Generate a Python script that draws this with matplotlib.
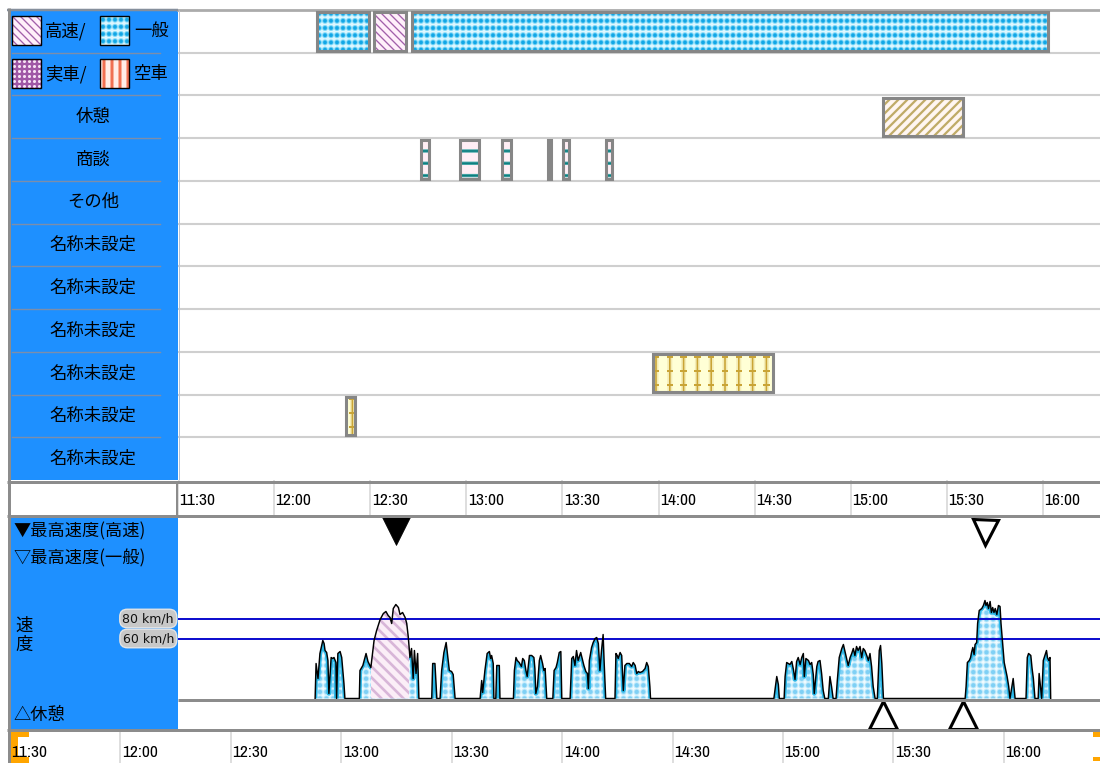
import numpy as np
import matplotlib
matplotlib.use("Agg")
import matplotlib.pyplot as plt
from matplotlib.path import Path
from matplotlib.patches import Rectangle
from matplotlib import colors as mcolors, font_manager as fm, transforms as mtrans

# ---------------- data ----------------
row_labels = ["", "", "休憩", "商談", "その他", "名称未設定", "名称未設定",
              "名称未設定", "名称未設定", "名称未設定", "名称未設定"]
legend_top = ["高速/", "一般"]
legend_bottom = ["実車/", "空車"]

drive_start = ["12:13:30", "12:31:18", "12:42:54"]
drive_end = ["12:29:30", "12:41:18", "16:01:42"]
drive_kind = ["一般", "高速", "一般"]

rest_start = ["15:10:06"]
rest_end = ["15:35:00"]

meeting_start = ["12:46:00", "12:57:54", "13:11:00", "13:25:36", "13:30:18", "13:43:42"]
meeting_end = ["12:48:30", "13:04:06", "13:13:48", "13:26:18", "13:31:54", "13:45:36"]

misc_row = [8, 9]
misc_start = ["13:58:24", "12:22:18"]
misc_end = ["14:35:36", "12:25:06"]

time_ticks = ["11:30", "12:00", "12:30", "13:00", "13:30", "14:00",
              "14:30", "15:00", "15:30", "16:00"]
speed_refs = [80, 60]

# minutes since midnight / km/h
speed_time = [
    732.8, 733.1, 733.7, 734.3, 735.2, 735.6, 735.9, 736.4, 736.8, 737.1, 737.8, 738.3, 738.7, 739.3, 739.5, 739.9, 740.6, 741.1, 741.8, 742.1,
    746.6, 746.8, 747.7, 748.7, 749.3, 750.2, 751.2, 752.0, 753.1, 754.1, 754.9, 755.6, 756.2, 756.7, 757.2, 758.0, 758.8, 759.3, 760.1, 760.9, 761.4, 761.9, 762.4, 762.9, 763.4, 763.8, 764.3, 764.8, 765.2,
    769.2, 769.5, 770.2, 770.8,
    771.8, 772.3, 773.0, 773.7, 774.1, 774.7, 775.4, 775.9, 776.5,
    784.3, 784.8, 785.1, 785.8, 786.5, 787.2, 787.6, 787.9, 788.4, 788.6, 789.2, 789.5, 790.3, 790.5,
    794.7, 795.0, 795.5, 795.9, 796.5, 797.2, 797.6, 798.1, 798.6, 799.0, 799.7, 800.4, 801.1, 801.4, 801.7, 802.2, 802.8, 803.2, 803.8, 804.2, 804.6, 805.1,
    807.0, 807.4, 808.0, 808.4, 809.0, 809.5, 809.8,
    812.4, 812.9, 813.4, 813.9, 814.4, 814.9, 815.7, 816.3, 816.7, 817.3, 817.8, 818.1, 818.4, 819.1, 819.6, 820.2, 820.7, 821.2, 821.7, 822.2, 822.7, 823.0, 823.5,
    826.4, 826.7, 827.1, 827.4, 828.0, 828.5, 829.0, 829.5, 830.1, 830.9, 831.6, 832.1, 832.7, 833.2, 833.7, 834.2, 835.0, 835.8, 836.3, 836.8, 837.3, 837.5,
    876.0, 876.4, 876.9, 877.4, 877.7,
    879.2, 879.5, 880.0, 880.5, 881.0, 881.6, 882.1, 882.6, 883.1, 883.6, 884.2, 884.7, 885.2, 885.5, 886.0, 886.8, 887.3, 887.8, 888.3, 888.6, 889.4, 889.8, 890.4, 890.9, 891.4, 891.9,
    893.0, 893.5, 894.0, 894.5,
    895.4, 895.8, 896.4, 897.2, 897.7, 898.2, 898.7, 899.2, 899.8, 900.3, 900.8, 901.3, 901.8, 902.3, 902.9, 903.4, 903.9, 904.4, 905.0, 905.5, 906.0, 906.5, 907.0, 907.6,
    908.3, 908.9, 909.3, 909.7, 910.2,
    935.7, 936.0, 936.4, 937.0, 937.4, 937.7, 938.1, 938.5, 938.8, 939.3, 939.6, 940.1, 940.9, 941.4, 941.9, 942.2, 942.6, 943.0, 943.5, 943.9, 944.3, 944.7, 945.1, 945.6, 946.1, 946.6, 946.9, 947.4, 947.9, 948.4, 948.8, 949.3, 949.7, 950.2, 950.7, 951.3,
    954.7, 955.1, 955.5, 956.2, 956.6, 957.0, 957.5,
    958.5, 958.8, 959.2, 959.6, 960.1, 960.6, 961.1, 961.4, 961.8, 962.2, 962.4]
speed_kmh = [
    0, 35, 20, 45, 58, 55, 48, 46, 38, 5, 41, 40, 41, 36, 0, 45, 47, 41, 15, 0,
    0, 28, 33, 45, 37, 31, 58, 68, 79, 85, 87, 83, 81, 75, 90, 94, 91, 84, 86, 81, 75, 61, 41, 50, 20, 48, 25, 45, 0,
    0, 35, 35, 0,
    0, 28, 46, 56, 45, 28, 27, 24, 0,
    0, 18, 6, 28, 45, 47, 40, 43, 35, 0, 0, 33, 33, 0,
    0, 28, 41, 38, 36, 32, 40, 38, 28, 22, 43, 43, 41, 30, 5, 12, 38, 43, 35, 28, 30, 0,
    0, 28, 31, 36, 46, 47, 0,
    0, 40, 42, 33, 48, 38, 46, 38, 33, 27, 25, 10, 38, 51, 56, 60, 61, 55, 28, 48, 64, 38, 0,
    0, 45, 43, 40, 46, 43, 8, 33, 35, 35, 32, 36, 33, 25, 27, 26, 27, 30, 36, 32, 12, 0,
    0, 10, 22, 14, 0,
    0, 22, 36, 35, 34, 37, 29, 19, 37, 41, 34, 41, 45, 22, 40, 38, 34, 36, 24, 5, 32, 37, 38, 25, 8, 0,
    0, 22, 12, 0,
    0, 18, 41, 50, 54, 47, 40, 33, 41, 45, 50, 43, 52, 48, 52, 41, 50, 48, 43, 38, 45, 32, 12, 0,
    0, 48, 53, 35, 0,
    0, 12, 36, 38, 41, 46, 51, 44, 54, 56, 75, 88, 90, 93, 98, 93, 96, 90, 97, 86, 91, 86, 90, 84, 93, 92, 75, 55, 36, 28, 22, 12, 0, 10, 20, 0,
    0, 41, 45, 43, 30, 20, 0,
    0, 25, 12, 0, 38, 43, 48, 41, 38, 41, 0]


def hm(s):
    p = [float(x) for x in s.split(":")]
    return p[0] * 60 + p[1] + (p[2] / 60 if len(p) > 2 else 0)


# ---------------- fonts ----------------
JP = ["Noto Sans CJK JP", "DejaVu Sans"]


def narrow_font():
    best = None
    for f in fm.fontManager.ttflist:
        n = f.name.lower()
        s = str(f.stretch).lower()
        if f.style != "normal" or str(f.weight) not in ("400", "normal", "regular", "book"):
            continue
        if "narrow" in n:
            score, size = 0, 12.5
        elif ("condensed" in n or "condensed" in s) and "semi" not in s and "semi" not in n:
            score, size = (2, 10.8) if "dejavu" in n else (1, 12.0)
        elif "semi" in s and "condensed" in s:
            score, size = 3, 11.0
        else:
            continue
        if best is None or score < best[0]:
            best = (score, size, f.fname)
    if best is None:
        return fm.FontProperties(family="DejaVu Sans", size=10.5)
    return fm.FontProperties(fname=best[2], size=best[1])


TFP = narrow_font()

# ---------------- patterns ----------------
def blend(img, color, a):
    c = np.array(mcolors.to_rgb(color))
    return img * (1 - a[..., None]) + c * a[..., None]


def make_pattern(kind, w, h):
    yy, xx = np.mgrid[0:h, 0:w].astype(float) + 0.5
    img = np.empty((h, w, 3))
    if kind in ("ippan", "ippan_s"):
        if kind == "ippan":
            sx, sy, cb, ch, cc, rc = 6.0, 7.2, "#DDF7FF", "#62CDF4", "#12A6E6", 2.2
        else:
            sx, sy, cb, ch, cc, rc = 6.6, 6.6, "#F0FBFF", "#B6E6FA", "#7FD0F5", 2.5
        r = np.hypot((xx % sx) - sx / 2, (yy % sy) - sy / 2)
        img[:] = mcolors.to_rgb(cb)
        img = blend(img, ch, np.clip((rc + 1.3 - r) / 1.4, 0, 1))
        img = blend(img, cc, np.clip((rc - r) / 0.9, 0, 1))
    elif kind in ("kosoku", "kosoku_s", "rest"):
        P, lw, cb, cf, sgn = {
            "kosoku": (8.0, 1.3, "#FFF0FA", "#A260AA", -1),
            "kosoku_s": (11.0, 2.6, "#FBEEF7", "#D8B6D8", -1),
            "rest": (9.0, 2.2, "#FFF6F1", "#BFAA66", 1)}[kind]
        ph = (xx + sgn * yy) % P
        d = np.minimum(ph, P - ph) / np.sqrt(2)
        img[:] = mcolors.to_rgb(cb)
        img = blend(img, cf, np.clip(lw / 2 + 0.5 - d, 0, 1))
    elif kind == "meeting":
        P = 12.3
        d = np.abs(((yy + 0.45) % P) - P / 2)
        img[:] = mcolors.to_rgb("#FFEEF5")
        img = blend(img, "#4AAAAA", np.clip(2.2 - d, 0, 1))
        img = blend(img, "#0F7F80", np.clip(1.3 - d, 0, 1))
    elif kind == "misc":
        P, Q = 13.8, 14.0
        dx = np.abs(((xx - 1.9) % P) - P / 2)
        dy = np.abs(((yy - 4.0) % Q) - Q / 2)
        img[:] = mcolors.to_rgb("#FFFFD6")
        img = blend(img, "#EDE0A0", np.clip(3.0 - dx, 0, 1) * 0.6)
        img = blend(img, "#C9A436", np.clip(1.3 - dx, 0, 1))
        img = blend(img, "#C9A436", ((dx < 3.2) & (dy < 0.8)).astype(float))
    elif kind == "jissha":
        s = 5.0
        r1 = np.hypot((xx % s) - s / 2, (yy % s) - s / 2)
        img[:] = mcolors.to_rgb("#A058A6")
        img = blend(img, "#F6E2F4", np.clip((1.9 - r1) / 0.8, 0, 1))
    elif kind == "kusha":
        P = 8.0
        d = np.abs((xx % P) - P / 2)
        img[:] = mcolors.to_rgb("#FFEDE8")
        img = blend(img, "#F8A890", np.clip(2.4 - d, 0, 1))
        img = blend(img, "#EE6244", np.clip(1.3 - d, 0, 1))
    return img


# ---------------- figure / layout ----------------
W, H, DPI = 1100, 763, 100
fig = plt.figure(figsize=(W / DPI, H / DPI), dpi=DPI, facecolor="white")


def px_axes(x, y, w, h, z=1):
    ax = fig.add_axes([x / W, 1 - (y + h) / H, w / W, h / H])
    ax.set_zorder(z)
    ax.set_axis_off()
    return ax


def pattern_image(ax, kind, clip_path, zorder, col_mask=None):
    pos = ax.get_position()
    w = int(round(pos.width * W))
    h = int(round(pos.height * H))
    rgb = make_pattern(kind, w, h)
    alpha = np.ones((h, w))
    x0, x1 = ax.get_xlim()
    y0, y1 = ax.get_ylim()
    if col_mask is not None:
        tc = x0 + (np.arange(w) + 0.5) * (x1 - x0) / w
        alpha[:, ~col_mask(tc)] = 0
    im = ax.imshow(np.dstack([rgb, alpha]), extent=(x0, x1, y0, y1), origin="upper",
                   aspect="auto", interpolation="nearest", zorder=zorder)
    im.set_clip_path(clip_path, ax.transData)
    ax.set_xlim(x0, x1)
    ax.set_ylim(y0, y1)
    return im


def bar_path(starts, ends, rows, pad=0.05):
    ps = []
    for s, e, r in zip(starts, ends, rows):
        a, b = r + pad, r + 1 - pad
        ps.append(Path([(s, a), (e, a), (e, b), (s, b), (s, a)], closed=True))
    return Path.make_compound_path(*ps)


T0 = hm(time_ticks[0])
T1 = T0 + 287.8
B1 = T0 + 296.1
NROW = len(row_labels)

canvas = px_axes(0, 0, W, H, z=0)
ax_g = px_axes(178, 10, 922, 470)
ax_t = px_axes(178, 480, 922, 37)
ax_s = px_axes(178, 517, 922, 183)
ax_r = px_axes(178, 700, 922, 30)
ax_b = px_axes(10, 730, 1090, 33)
top = px_axes(0, 0, W, H, z=10)

for ax in (ax_g, ax_t, ax_s, ax_r):
    ax.set_xlim(T0, T1)
ax_b.set_xlim(T0, B1)
ax_g.set_ylim(NROW, 0)
ax_t.set_ylim(0, 1)
ax_s.set_ylim(-1.5, 181.5)
ax_r.set_ylim(0, 1)
ax_b.set_ylim(0, 1)

BLUE = "#1E90FF"
GRAY = "#8C8C8C"

# ---------------- canvas decorations ----------------
canvas.add_patch(Rectangle((10, 10), 168, 470, fc=BLUE, ec="none", zorder=1))
canvas.add_patch(Rectangle((10, 517), 168, 213, fc=BLUE, ec="none", zorder=1))
row_h = 470 / NROW
for i in range(1, NROW):
    y = 10 + i * row_h
    canvas.plot([12, 160], [y, y], color="#7C8EAA", lw=1.0, zorder=2)


def icon(x, y, kind, s=29):
    canvas.add_patch(Rectangle((x + 1, y + 1), s, s, fc="white", ec="none", zorder=2))
    canvas.imshow(make_pattern(kind, s, s), extent=(x, x + s, y + s, y), origin="upper",
                  aspect="auto", interpolation="nearest", zorder=3)
    canvas.add_patch(Rectangle((x, y), s, s, fill=False, ec="black", lw=1.0, zorder=4))


icon(12, 16, "kosoku")
icon(100, 16, "ippan")
icon(12, 59, "jissha")
icon(100, 59, "kusha")
for (t1, t2), yc in ((legend_top, 31), (legend_bottom, 74)):
    canvas.text(45, yc, t1, fontfamily=JP, fontsize=12.5, va="center", ha="left", zorder=5)
    canvas.text(134, yc, t2, fontfamily=JP, fontsize=12.5, va="center", ha="left", zorder=5)

canvas.text(13, 531, "▼最高速度(高速)", fontfamily=JP, fontsize=12.4, va="center", ha="left", zorder=5)
canvas.text(13, 558, "▽最高速度(一般)", fontfamily=JP, fontsize=12.4, va="center", ha="left", zorder=5)
canvas.text(24, 626, "速", fontfamily=JP, fontsize=12.5, va="center", ha="center", zorder=5)
canvas.text(24, 645, "度", fontfamily=JP, fontsize=12.5, va="center", ha="center", zorder=5)
canvas.text(13, 715, "△休憩", fontfamily=JP, fontsize=12.4, va="center", ha="left", zorder=5)

# orange range brackets on the overview strip
OR = "#FFA500"
for r in ((11, 731, 7, 32), (11, 731, 18, 6), (11, 757, 18, 6),
          (1093, 731, 7, 6), (1093, 757, 7, 4)):
    canvas.add_patch(Rectangle((r[0], r[1]), r[2], r[3], fc=OR, ec="none", zorder=2))

canvas.set_xlim(0, W)
canvas.set_ylim(H, 0)

# ---------------- gantt ----------------
for i in range(1, NROW):
    ax_g.axhline(i, color="#CFCFCF", lw=1.5, zorder=1)
ax_g.axhline(0, color="#ABABAB", lw=2.0, zorder=1, clip_on=False)

bl = mtrans.blended_transform_factory(ax_g.transAxes, ax_g.transData)
for i, lab in enumerate(row_labels):
    if lab:
        ax_g.text(-85 / 922, i + 0.5, lab, transform=bl, fontfamily=JP, fontsize=12.5,
                  ha="center", va="center", clip_on=False, zorder=6)

ds = [hm(s) for s in drive_start]
de = [hm(s) for s in drive_end]
kind_map = {"一般": "ippan", "高速": "kosoku"}
for k, pk in kind_map.items():
    idx = [i for i, kk in enumerate(drive_kind) if kk == k]
    if idx:
        pattern_image(ax_g, pk, bar_path([ds[i] for i in idx], [de[i] for i in idx], [0] * len(idx)), 2)

rs = [hm(s) for s in rest_start]
re_ = [hm(s) for s in rest_end]
ms = [hm(s) for s in meeting_start]
me = [hm(s) for s in meeting_end]
xs = [hm(s) for s in misc_start]
xe = [hm(s) for s in misc_end]
pattern_image(ax_g, "rest", bar_path(rs, re_, [2] * len(rs)), 2)
pattern_image(ax_g, "meeting", bar_path(ms, me, [3] * len(ms)), 2)
pattern_image(ax_g, "misc", bar_path(xs, xe, misc_row), 2)

pad = 0.05
for starts, ends, rows in ((ds, de, [0] * len(ds)), (rs, re_, [2] * len(rs)),
                           (ms, me, [3] * len(ms)), (xs, xe, misc_row)):
    for s, e, r in zip(starts, ends, rows):
        ax_g.add_patch(Rectangle((s, r + pad), e - s, 1 - 2 * pad, fill=False,
                                 ec="#868686", lw=2.2, zorder=4))

# ---------------- time axes ----------------
for ax, yb in ((ax_t, 0.32), (ax_b, 0.19)):
    for lab in time_ticks:
        t = hm(lab)
        ax.axvline(t, color="#D4D4D4", lw=1.1, zorder=1)
        ax.annotate(lab, (t, yb), xycoords=("data", "axes fraction"), xytext=(1.5, 0),
                    textcoords="offset pixels", ha="left", va="baseline", color="black",
                    zorder=3, fontproperties=TFP)

# ---------------- speed ----------------
st = np.array(speed_time)
sv = np.array(speed_kmh, dtype=float)
verts = [(st[0], 0.0)] + list(zip(st, sv)) + [(st[-1], 0.0), (st[0], 0.0)]
curve = Path(verts, closed=True)

hw = []
for i, k in enumerate(drive_kind):
    if k == "高速":
        lo = (de[i - 1] + ds[i]) / 2 if i > 0 else ds[i]
        hi = (de[i] + ds[i + 1]) / 2 if i + 1 < len(ds) else de[i]
        hw.append((lo, hi))


def in_hw(t):
    m = np.zeros_like(t, dtype=bool)
    for lo, hi in hw:
        m |= (t >= lo) & (t <= hi)
    return m


pattern_image(ax_s, "ippan_s", curve, 2)
glow, = ax_s.plot(st, sv, color="#2BB8E8", lw=3.2, zorder=2.5)
glow.set_clip_path(curve, ax_s.transData)
pattern_image(ax_s, "kosoku_s", curve, 3, col_mask=in_hw)
for v in speed_refs:
    ax_s.axhline(v, color="#0A0ACD", lw=1.4, zorder=4)
ax_s.plot(st, sv, color="black", lw=1.05, zorder=5)

blS = mtrans.blended_transform_factory(ax_s.transAxes, ax_s.transData)
for v in speed_refs:
    ax_s.text(-4 / 922, v, f"{v} km/h", transform=blS, ha="right", va="center",
              fontsize=9, fontfamily="DejaVu Sans", color="#111111", clip_on=False, zorder=6,
              bbox=dict(boxstyle="round,pad=0.22,rounding_size=0.6", fc="#C8C8C8",
                        ec="#E4E4E4", lw=1.0))

mhw = in_hw(st)
i_hw = np.where(mhw)[0][np.argmax(sv[mhw])]
i_gen = np.where(~mhw)[0][np.argmax(sv[~mhw])]
blA = mtrans.blended_transform_factory(ax_s.transData, ax_s.transAxes)
ax_s.plot([st[i_hw]], [0.922], transform=blA, marker="v", ms=20, mfc="black", mec="black",
          mew=0.5, ls="none", clip_on=False, zorder=7)
ax_s.plot([st[i_gen]], [0.918], transform=blA, marker="v", ms=18, mfc="white", mec="black",
          mew=2.2, ls="none", clip_on=False, zorder=7)

# rest markers
ax_r.plot(rs + re_, [0.5] * (len(rs) + len(re_)), marker="^", ms=19.5, mfc="white", mec="black",
          mew=2.2, ls="none", clip_on=False, zorder=5)

# ---------------- overlay frame lines ----------------
def hline(y, x0, x1, c=GRAY, w=3):
    top.plot([x0, x1], [y, y], color=c, lw=w * 0.72, solid_capstyle="butt")


def vline(x, y0, y1, c=GRAY, w=3):
    top.plot([x, x], [y0, y1], color=c, lw=w * 0.72, solid_capstyle="butt")


hline(9.5, 7, 178, c="#858F9C", w=2.5)
hline(481.5, 7, W)
hline(515.5, 7, W)
hline(699.5, 178, W)
hline(729.5, 7, W)
vline(8.5, 8, H)
vline(176.5, 481, 516, w=2)
vline(178.5, 10, 480, c="#B8C4D4", w=1)
top.set_xlim(0, W)
top.set_ylim(H, 0)

fig.savefig("out.png", dpi=DPI)
